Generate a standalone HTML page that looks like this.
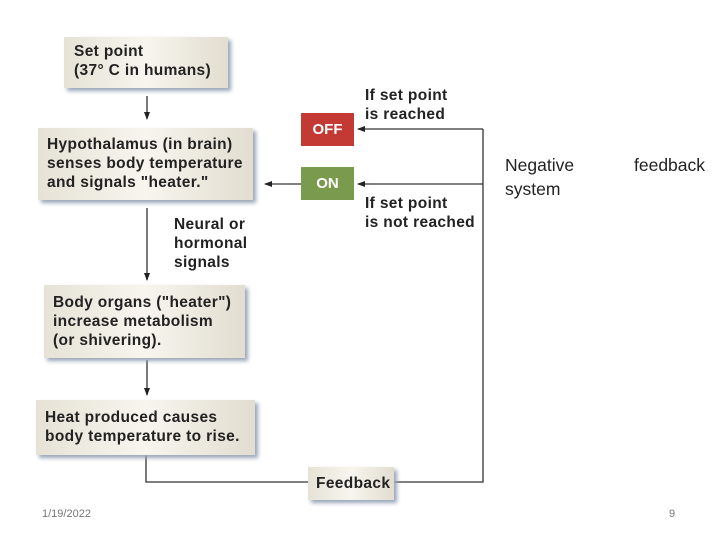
<!DOCTYPE html>
<html><head><style>
body{margin:0;width:720px;height:540px;background:#fff;position:relative;overflow:hidden;font-family:"Liberation Sans",sans-serif}
.b{position:absolute;background:linear-gradient(90deg,#e6e2d6,#f7f5ee 50%,#e2ddd0);box-shadow:3px 3px 4px #9aa6b8;font-weight:bold;font-size:15.5px;letter-spacing:0.35px;line-height:19px;color:#222;box-sizing:border-box;white-space:nowrap}
.t{position:absolute;font-weight:bold;font-size:15.5px;letter-spacing:0.35px;line-height:19px;color:#222;white-space:nowrap}
.s{position:absolute;color:#fff;font-weight:bold;font-size:15px;text-align:center;line-height:33px}
</style></head><body>
<svg width="720" height="540" style="position:absolute;left:0;top:0">
<defs><marker id="a" markerWidth="8" markerHeight="8" refX="7" refY="4" orient="auto" markerUnits="userSpaceOnUse"><path d="M0,1 L8,4 L0,7 Z" fill="#222"/></marker></defs>
<g stroke="#333" stroke-width="1.3" fill="none">
<line x1="147" y1="96" x2="147" y2="119" marker-end="url(#a)"/>
<line x1="147" y1="208" x2="147" y2="280" marker-end="url(#a)"/>
<line x1="147" y1="360" x2="147" y2="395" marker-end="url(#a)"/>
<line x1="301" y1="184" x2="265" y2="184" marker-end="url(#a)"/>
<line x1="483" y1="129" x2="358" y2="129" marker-end="url(#a)"/>
<line x1="483" y1="184" x2="358" y2="184" marker-end="url(#a)"/>
<polyline points="146,455 146,482 308,482"/>
<polyline points="394,482 483,482 483,129"/>
</g></svg>
<div class="b" style="left:64px;top:37px;width:164px;height:51px;padding:5px 10px">Set point<br>(37° C in humans)</div>
<div class="b" style="left:38px;top:128px;width:215px;height:72px;padding:7px 9px">Hypothalamus (in brain)<br>senses body temperature<br>and signals "heater."</div>
<div class="b" style="left:44px;top:285px;width:201px;height:73px;padding:8px 9px">Body organs ("heater")<br>increase metabolism<br>(or shivering).</div>
<div class="b" style="left:36px;top:400px;width:219px;height:55px;padding:8px 9px">Heat produced causes<br>body temperature to rise.</div>
<div class="b" style="left:308px;top:467px;width:86px;height:33px;padding:7px 8px">Feedback</div>
<div class="s" style="left:301px;top:113px;width:53px;height:33px;background:#c23a33">OFF</div>
<div class="s" style="left:301px;top:167px;width:53px;height:33px;background:#7a9a4e">ON</div>
<div class="t" style="left:365px;top:86px">If set point<br>is reached</div>
<div class="t" style="left:365px;top:194px">If set point<br>is not reached</div>
<div class="t" style="left:174px;top:215px">Neural or<br>hormonal<br>signals</div>
<div style="position:absolute;left:505px;top:153px;font-size:17.5px;line-height:24px;color:#222">Negative<br>system</div>
<div style="position:absolute;left:634px;top:153px;font-size:17.5px;line-height:24px;color:#222">feedback</div>
<div style="position:absolute;left:42px;top:508px;font-size:11px;color:#777">1/19/2022</div>
<div style="position:absolute;left:669px;top:508px;font-size:11px;color:#777">9</div>
</body></html>
